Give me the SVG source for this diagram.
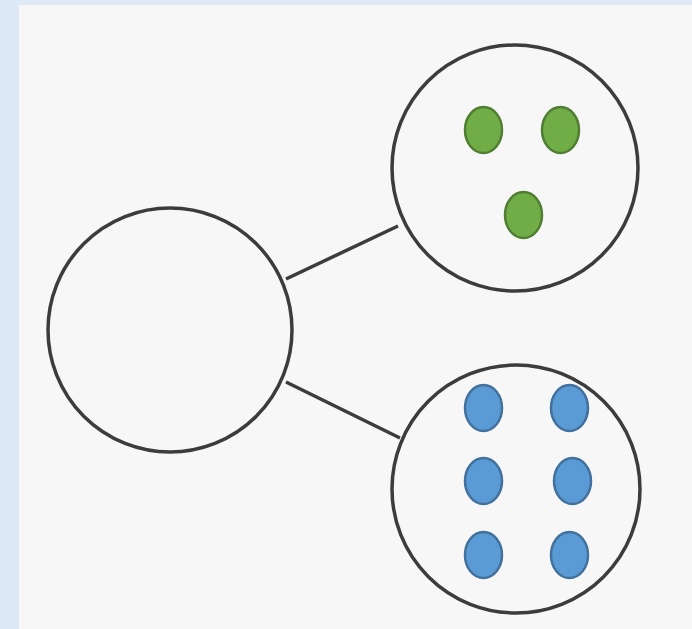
<svg xmlns="http://www.w3.org/2000/svg" width="692" height="629" viewBox="0 0 692 629">
<style>
.ring{fill:none;stroke:#3c3c3c;stroke-width:3.5}
.edge{stroke:#3c3c3c;stroke-width:3.5;fill:none}
.g{fill:#70ad47;stroke:#507e32;stroke-width:2.5}
.b{fill:#5b9bd5;stroke:#41719c;stroke-width:2.5}
</style>
<rect x="0" y="0" width="692" height="629" fill="#dde9f5"/>
<rect x="19" y="5" width="673" height="624" fill="#f7f7f7"/>
<g id="connectors">
<line class="edge" x1="286" y1="279" x2="398" y2="226"/>
<line class="edge" x1="286" y1="382" x2="400" y2="438"/>
</g>
<g id="hub"><circle class="ring" cx="170" cy="330" r="122"/></g>
<g id="top-group">
<circle class="ring" cx="515" cy="168" r="123"/>
<ellipse class="g" cx="483.5" cy="130" rx="18.5" ry="23"/>
<ellipse class="g" cx="560.5" cy="130" rx="18.5" ry="23"/>
<ellipse class="g" cx="523.5" cy="215" rx="18.5" ry="23"/>
</g>
<g id="bottom-group">
<circle class="ring" cx="516" cy="489" r="124"/>
<ellipse class="b" cx="483.5" cy="408" rx="18.5" ry="23"/>
<ellipse class="b" cx="569.5" cy="408" rx="18.5" ry="23"/>
<ellipse class="b" cx="483.5" cy="481" rx="18.5" ry="23"/>
<ellipse class="b" cx="572.5" cy="481" rx="18.5" ry="23"/>
<ellipse class="b" cx="483.5" cy="555" rx="18.5" ry="23"/>
<ellipse class="b" cx="569.5" cy="555" rx="18.5" ry="23"/>
</g>
</svg>
